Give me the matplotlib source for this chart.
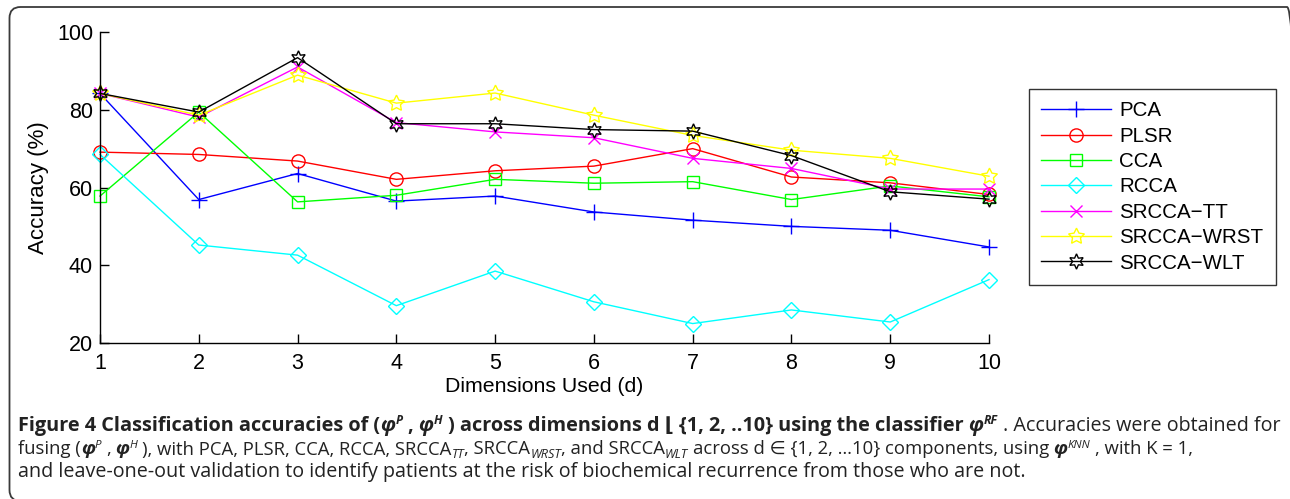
import matplotlib
matplotlib.use('Agg')
import matplotlib.pyplot as plt
from matplotlib.patches import FancyBboxPatch
from matplotlib.transforms import IdentityTransform

# ---------------- data ----------------
dims = [1, 2, 3, 4, 5, 6, 7, 8, 9, 10]
pca = [84.2, 56.9, 63.6, 56.5, 57.8, 53.7, 51.6, 50.0, 49.0, 44.7]
plsr = [69.1, 68.5, 66.8, 62.1, 64.3, 65.5, 70.0, 62.7, 61.2, 58.2]
cca = [57.8, 79.4, 56.3, 58.0, 62.1, 61.1, 61.5, 56.9, 60.4, 57.6]
rcca = [68.5, 45.2, 42.6, 29.6, 38.5, 30.6, 25.0, 28.5, 25.4, 36.3]
srcca_tt = [84.2, 78.1, 91.0, 76.7, 74.3, 72.8, 67.5, 64.9, 59.6, 59.6]
srcca_wrst = [84.2, 78.6, 88.9, 81.7, 84.3, 78.6, 73.4, 69.6, 67.5, 62.9]
srcca_wlt = [84.2, 79.4, 93.4, 76.4, 76.4, 74.9, 74.5, 68.2, 58.9, 57.0]
labels = ['PCA', 'PLSR', 'CCA', 'RCCA', 'SRCCA\u2212TT', 'SRCCA\u2212WRST', 'SRCCA\u2212WLT']
y_ticks = [20, 40, 60, 80, 100]

W, H = 1290, 499
fig = plt.figure(figsize=(W / 100, H / 100), dpi=100)
plt.rcParams['font.family'] = ['Liberation Sans', 'DejaVu Sans']

# rounded frame (pixel coordinates, origin bottom-left); bottom/right run off the image
frame = FancyBboxPatch((9.5, H - 501), 1298 - 9.5, 501 - 7,
                       boxstyle='round,pad=0,rounding_size=11',
                       transform=IdentityTransform(), fill=False,
                       edgecolor='#3a3a3a', linewidth=1.3)
fig.patches.append(frame)

ax = fig.add_axes([100 / W, 1 - 343 / H, (989 - 100) / W, (343 - 32) / H])

series = [
    (pca, (0, 0, 1), '+', 11),
    (plsr, (1, 0, 0), 'o', 9.5),
    (cca, (0, 1, 0), 's', 8.5),
    (rcca, (0, 1, 1), 'D', 8.5),
    (srcca_tt, (1, 0, 1), 'x', 8.5),
    (srcca_wrst, (1, 1, 0), (5, 1, 0), 12),
    (srcca_wlt, (0, 0, 0), (6, 1, 0), 11),
]
for (vals, col, mk, ms), lab in zip(series, labels):
    ax.plot(dims, vals, color=col, marker=mk, markersize=ms, markerfacecolor='none',
            markeredgecolor=col, markeredgewidth=1.0, linewidth=1.0, label=lab,
            clip_on=False)

ax.set_xlim(1, 10)
ax.set_ylim(20, 100)
ax.set_xticks(dims)
ax.set_yticks(y_ticks)
for s in ['top', 'right']:
    ax.spines[s].set_visible(False)
for s in ['left', 'bottom']:
    ax.spines[s].set_linewidth(1.0)
ax.tick_params(direction='in', length=6.5, width=1.0, labelsize=15.5)
ax.tick_params(axis='y', pad=5)
ax.tick_params(axis='x', pad=7)
ax.set_xlabel('Dimensions Used (d)', fontsize=15.3, labelpad=2)
ax.set_ylabel('Accuracy (%)', fontsize=16, labelpad=6)

leg = fig.legend(loc='upper left', bbox_to_anchor=(1029 / W, 1 - 89 / H),
                 fontsize=14.8, frameon=True, fancybox=False, edgecolor='black',
                 handlelength=3.4, handletextpad=0.4, labelspacing=0.31,
                 borderpad=0.6, borderaxespad=0)
leg.get_frame().set_linewidth(1.0)

# ---------------- caption ----------------
renderer = fig.canvas.get_renderer()
cap_font = 'Open Sans'


def draw_runs(x_px, base_px, runs, reg_size, bold_size):
    x = x_px
    made = []
    for text, st in runs:
        weight = st.get('weight', 'normal')
        style = st.get('style', 'normal')
        base_size = bold_size if weight == 'bold' and not st.get('regsize') else reg_size
        size = base_size * st.get('scale', 1.0)
        dy = st.get('dy', 0.0) * base_size / 10.0
        lead = len(text) - len(text.lstrip(' '))
        trail = len(text) - len(text.rstrip(' '))
        core = text.strip(' ')
        sp = fig.text(0, 0, 'a a', fontsize=size, family=[cap_font, 'DejaVu Sans'],
                      weight=weight, style=style)
        w2 = sp.get_window_extent(renderer).width
        sp.set_text('aa')
        w1 = sp.get_window_extent(renderer).width
        sp.remove()
        spw = w2 - w1
        x += lead * spw
        if core:
            t = fig.text(x / W, 1 - (base_px - dy) / H, core, fontsize=size,
                         family=[cap_font, 'DejaVu Sans'], weight=weight, style=style,
                         va='baseline', ha='left', color='#222222')
            made.append(t)
            x += t.get_window_extent(renderer).width
        x += trail * spw
    return x, made


B = {'weight': 'bold'}
BI = {'weight': 'bold', 'style': 'italic'}
BSUP = {'weight': 'bold', 'style': 'italic', 'scale': 0.62, 'dy': 5}
R = {}
RBI = {'weight': 'bold', 'style': 'italic', 'regsize': True}
SUP = {'style': 'italic', 'scale': 0.62, 'dy': 5}
SUB = {'style': 'italic', 'scale': 0.68, 'dy': -2.5}

line1 = [
    ('Figure 4 Classification accuracies of (', B), ('\u03c6', BI), ('P', BSUP),
    (' , ', B), ('\u03c6', BI), ('H', BSUP),
    (' ) across dimensions d \u230a {1, 2, ..10} using the classifier ', B),
    ('\u03c6', BI), ('RF', BSUP), (' . Accuracies were obtained for', R),
]
line2 = [
    ('fusing (', R), ('\u03c6', RBI), ('P', SUP), (' , ', R), ('\u03c6', RBI), ('H', SUP),
    (' ), with PCA, PLSR, CCA, RCCA, SRCCA', R), ('TT', SUB), (', SRCCA', R),
    ('WRST', SUB), (', and SRCCA', R), ('WLT', SUB),
    (' across d \u2208 {1, 2, \u202610} components, using ', R), ('\u03c6', RBI),
    ('KNN', SUP), (' , with K = 1,', R),
]
line3 = [
    ('and leave-one-out validation to identify patients at the risk of biochemical '
     'recurrence from those who are not.', R),
]


def measure(runs, reg, bold):
    end, made = draw_runs(18, 430.7, runs, reg, bold)
    for t in made:
        t.remove()
    return end - 18


# regular size fitted on line 3 (x 18 -> 1025), bold size then fitted on line 1 (-> 1276)
reg = 10.0 * (1025 - 18) / measure(line3, 10.0, 10.0)
bold = 10.0
for _ in range(3):
    tail = measure(line1[-1:], reg, bold)
    head = measure(line1[:-1], reg, bold)
    bold = bold * ((1276 - 18) - tail) / head
# line 2 fitted as a whole so it ends where the original does (-> 1195)
reg2 = reg * (1195 - 18) / measure(line2, reg, bold)

draw_runs(18, 430.7, line1, reg, bold)
draw_runs(18, 454.5, line2, reg2, bold)
draw_runs(18, 477.0, line3, reg, bold)

fig.savefig('out.png', dpi=100)
